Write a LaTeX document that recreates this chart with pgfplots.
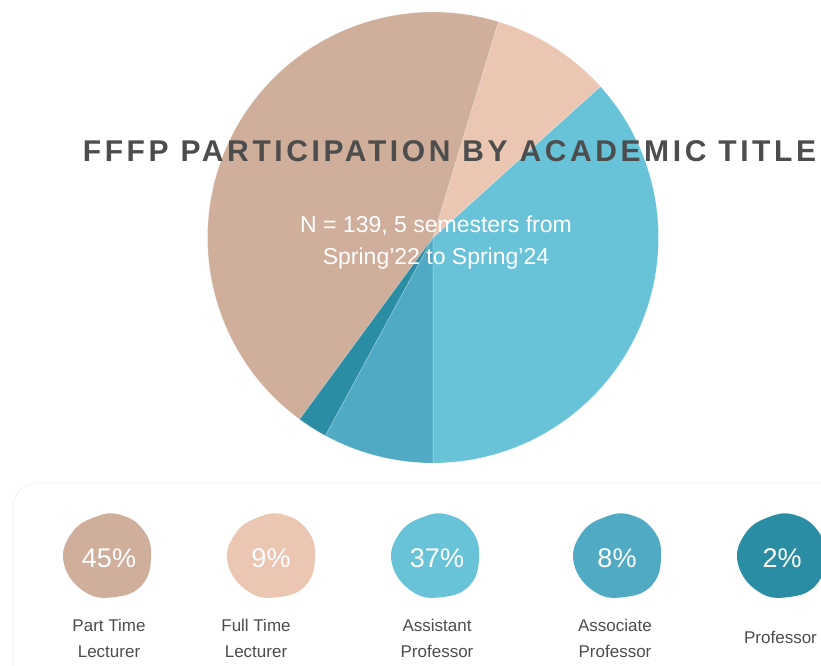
\documentclass[border=0pt]{standalone}
\usepackage{pgfplots}
\pgfplotsset{compat=1.18}
\usepackage{fontspec}
\setmainfont{Liberation Sans}
\newfontfamily\titlefont[LetterSpace=12]{Liberation Sans}
\definecolor{cPart}{HTML}{CFAE9B}
\definecolor{cFull}{HTML}{EAC6B3}
\definecolor{cAsst}{HTML}{68C3D8}
\definecolor{cAssoc}{HTML}{50AAC3}
\definecolor{cProf}{HTML}{2B8DA3}
\definecolor{cText}{HTML}{4D4D4D}
% counts (N = 139)
\def\nAsst{51}\def\nFull{12}\def\nPart{62}\def\nProf{3}\def\nAssoc{11}\def\nTot{139}
\pgfmathsetmacro\aA{270}
\pgfmathsetmacro\aB{\aA+\nAsst/\nTot*360}
\pgfmathsetmacro\aC{\aB+\nFull/\nTot*360}
\pgfmathsetmacro\aD{\aC+\nPart/\nTot*360}
\pgfmathsetmacro\aE{\aD+\nProf/\nTot*360}
\pgfmathsetmacro\aF{\aE+\nAssoc/\nTot*360}
\def\cx{433}\def\cy{427.5}\def\rr{225.5}
\begin{document}
\begin{tikzpicture}
\useasboundingbox (0,0) rectangle (821pt,665pt);
\clip (0,0) rectangle (821pt,665pt);
\fill[white] (0,0) rectangle (821pt,665pt);
\begin{axis}[at={(0,0)}, anchor=south west, width=821pt, height=665pt,
  scale only axis, xmin=0, xmax=821, ymin=0, ymax=665, hide axis, clip=false]
\addplot[fill=cAsst, draw=white, draw opacity=0.25, line width=0.7pt, domain=\aA:\aB, samples=80, variable=\t]
  ({\cx+\rr*cos(\t)},{\cy+\rr*sin(\t)}) -- (axis cs:\cx,\cy) -- cycle;
\addplot[fill=cFull, draw=white, draw opacity=0.25, line width=0.7pt, domain=\aB:\aC, samples=30, variable=\t]
  ({\cx+\rr*cos(\t)},{\cy+\rr*sin(\t)}) -- (axis cs:\cx,\cy) -- cycle;
\addplot[fill=cPart, draw=white, draw opacity=0.25, line width=0.7pt, domain=\aC:\aD, samples=100, variable=\t]
  ({\cx+\rr*cos(\t)},{\cy+\rr*sin(\t)}) -- (axis cs:\cx,\cy) -- cycle;
\addplot[fill=cProf, draw=white, draw opacity=0.25, line width=0.7pt, domain=\aD:\aE, samples=10, variable=\t]
  ({\cx+\rr*cos(\t)},{\cy+\rr*sin(\t)}) -- (axis cs:\cx,\cy) -- cycle;
\addplot[fill=cAssoc, draw=white, draw opacity=0.25, line width=0.7pt, domain=\aE:\aF, samples=30, variable=\t]
  ({\cx+\rr*cos(\t)},{\cy+\rr*sin(\t)}) -- (axis cs:\cx,\cy) -- cycle;
\end{axis}
\begin{scope}[x=1pt,y=-1pt,yshift=665pt]
% title
\node[anchor=base, text=cText, inner sep=0pt] at (449.5,162)
  {\titlefont\bfseries\fontsize{30}{36}\selectfont FFFP PARTICIPATION BY ACADEMIC TITLE};
% subtitle
\node[anchor=base, text=white, inner sep=0pt] at (436,233)
  {\fontsize{23}{28}\selectfont N = 139, 5 semesters from};
\node[anchor=base, text=white, inner sep=0pt] at (436,265)
  {\fontsize{23}{28}\selectfont Spring’22 to Spring’24};
% bottom panel
\draw[fill=white, draw=black!6, line width=0.6pt, rounded corners=24pt] (13,483) rectangle (880,720);
% blobs
\newcommand\blob[3]{%
  \fill[#3] plot[smooth cycle, tension=0.75] coordinates {
    ({#1-43},{#2+8}) ({#1-36},{#2-22}) ({#1-12},{#2-39}) ({#1+14},{#2-41})
    ({#1+37},{#2-25}) ({#1+44},{#2+1}) ({#1+35},{#2+29}) ({#1+8},{#2+41}) ({#1-22},{#2+36})};}
\blob{107}{556}{cPart}
\blob{271}{556}{cFull}
\blob{435}{556}{cAsst}
\blob{617}{556}{cAssoc}
\blob{781}{556}{cProf}
\foreach \x/\t in {109/45\%, 271/9\%, 437/37\%, 617/8\%, 782/2\%}
  \node[anchor=base, text=white, inner sep=0pt] at (\x,567) {\fontsize{27}{32}\selectfont \t};
% labels
\foreach \x/\a/\b in {109/Part Time/Lecturer, 256/Full Time/Lecturer, 437/Assistant/Professor, 615/Associate/Professor}{
  \node[anchor=base, text=cText, inner sep=0pt] at (\x,631) {\fontsize{17}{20}\selectfont \a};
  \node[anchor=base, text=cText, inner sep=0pt] at (\x,657) {\fontsize{17}{20}\selectfont \b};
}
\node[anchor=base, text=cText, inner sep=0pt] at (780.5,643) {\fontsize{17}{20}\selectfont Professor};
\end{scope}
\end{tikzpicture}
\end{document}
